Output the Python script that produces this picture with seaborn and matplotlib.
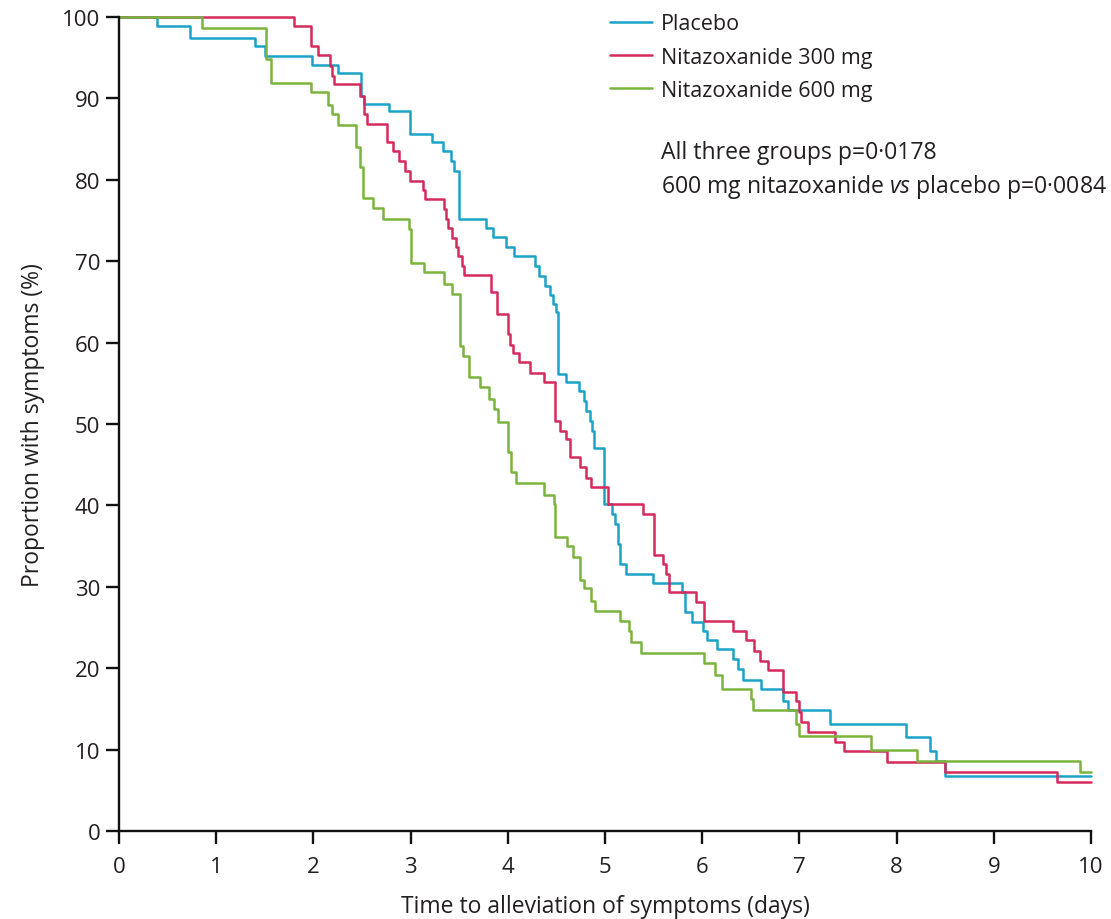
import pandas as pd
import matplotlib
matplotlib.use("Agg")
import matplotlib.pyplot as plt
import seaborn as sns

# Kaplan-Meier style step data (time in days, % with symptoms)
placebo_t = [0, 0.39, 0.73, 1.40, 1.50, 1.99, 2.25, 2.49, 2.52, 2.78, 2.99, 3.22, 3.33,
             3.42, 3.45, 3.50, 3.78, 3.85, 3.98, 4.06, 4.28, 4.32, 4.38, 4.43, 4.47, 4.50,
             4.52, 4.60, 4.73, 4.78, 4.81, 4.85, 4.87, 4.89, 4.99, 5.07, 5.10, 5.13, 5.16,
             5.22, 5.49, 5.79, 5.82, 5.90, 6.01, 6.05, 6.15, 6.32, 6.37, 6.42, 6.61, 6.83,
             6.88, 7.31, 8.10, 8.34, 8.41, 8.50, 10]
placebo_v = [100, 98.9, 97.4, 96.4, 95.2, 94.1, 93.1, 90.3, 89.3, 88.4, 85.6, 84.6, 83.5,
             82.3, 81.1, 75.2, 74.1, 73.0, 71.8, 70.7, 69.4, 68.2, 67.0, 65.8, 64.7, 63.7,
             56.1, 55.1, 54.0, 52.8, 51.6, 50.4, 49.2, 47.1, 40.2, 38.9, 37.7, 35.3, 32.8,
             31.6, 30.5, 29.3, 26.9, 25.7, 24.6, 23.5, 22.4, 21.1, 19.9, 18.6, 17.4, 16.0,
             14.8, 13.2, 11.5, 9.8, 8.6, 6.7, 6.7]

nit300_t = [0, 1.80, 1.98, 2.05, 2.17, 2.19, 2.21, 2.48, 2.52, 2.55, 2.76, 2.82, 2.88,
            2.94, 2.99, 3.13, 3.15, 3.34, 3.37, 3.39, 3.43, 3.47, 3.49, 3.53, 3.55, 3.83,
            3.89, 4.00, 4.02, 4.05, 4.12, 4.23, 4.37, 4.49, 4.54, 4.60, 4.64, 4.74, 4.81,
            4.86, 5.03, 5.39, 5.50, 5.60, 5.63, 5.66, 5.94, 6.02, 6.32, 6.45, 6.53, 6.60,
            6.68, 6.83, 6.97, 7.00, 7.02, 7.09, 7.37, 7.46, 7.90, 8.50, 9.65, 10]
nit300_v = [100, 98.9, 96.5, 95.3, 94.0, 92.8, 91.8, 90.3, 88.1, 86.9, 84.6, 83.5, 82.3,
            81.1, 79.9, 78.8, 77.6, 76.4, 75.2, 74.1, 72.9, 71.8, 70.7, 69.4, 68.3, 66.2,
            63.5, 61.0, 59.7, 58.7, 57.6, 56.3, 55.2, 50.4, 49.2, 48.2, 45.9, 44.7, 43.4,
            42.3, 40.2, 38.9, 33.9, 32.8, 31.6, 29.3, 28.1, 25.8, 24.6, 23.4, 22.1, 20.9,
            19.8, 17.1, 16.0, 14.6, 13.4, 12.1, 10.9, 9.8, 8.5, 7.3, 6.0, 6.0]

nit600_t = [0, 0.86, 1.51, 1.56, 1.98, 2.15, 2.19, 2.25, 2.44, 2.48, 2.51, 2.61, 2.72,
            2.98, 3.00, 3.14, 3.34, 3.43, 3.51, 3.54, 3.60, 3.71, 3.81, 3.86, 3.90, 4.00,
            4.03, 4.09, 4.37, 4.48, 4.49, 4.61, 4.67, 4.74, 4.78, 4.86, 4.90, 5.16, 5.25,
            5.27, 5.37, 6.02, 6.13, 6.20, 6.50, 6.52, 6.97, 7.00, 7.74, 8.21, 9.89, 10]
nit600_v = [100, 98.6, 94.8, 91.9, 90.8, 89.2, 88.1, 86.7, 84.0, 81.6, 77.8, 76.5, 75.2,
            74.0, 69.8, 68.7, 67.2, 66.0, 59.6, 58.3, 55.8, 54.5, 53.1, 51.8, 50.3, 46.5,
            44.1, 42.7, 41.3, 40.2, 36.1, 35.0, 33.6, 30.8, 29.8, 28.3, 27.0, 25.8, 24.6,
            23.2, 21.9, 20.6, 19.1, 17.5, 16.2, 14.8, 13.1, 11.7, 9.9, 8.6, 7.2, 7.2]

groups = ["Placebo", "Nitazoxanide 300 mg", "Nitazoxanide 600 mg"]
colors = {"Placebo": "#1aa2c7", "Nitazoxanide 300 mg": "#d52a5c",
          "Nitazoxanide 600 mg": "#7ab43c"}

df = pd.concat([
    pd.DataFrame({"time": placebo_t, "pct": placebo_v, "group": groups[0]}),
    pd.DataFrame({"time": nit300_t, "pct": nit300_v, "group": groups[1]}),
    pd.DataFrame({"time": nit600_t, "pct": nit600_v, "group": groups[2]}),
], ignore_index=True)

sns.set_style("white")
plt.rcParams["font.family"] = ["Open Sans", "DejaVu Sans"]
plt.rcParams["mathtext.fontset"] = "custom"
plt.rcParams["mathtext.rm"] = "Open Sans"
plt.rcParams["mathtext.it"] = "Open Sans:italic"
txt_color = "#231f20"

fig = plt.figure(figsize=(11.11, 9.2), dpi=100)
ax = fig.add_axes([0.107, 0.0957, 0.875, 0.8847])

sns.lineplot(data=df, x="time", y="pct", hue="group", hue_order=groups, palette=colors,
             estimator=None, sort=False, drawstyle="steps-post", linewidth=1.8,
             clip_on=False, ax=ax)

ax.set_xlim(0, 10)
ax.set_ylim(0, 100)
ax.set_xticks(range(0, 11))
ax.set_yticks(range(0, 101, 10))
sns.despine(ax=ax)
for side in ["left", "bottom"]:
    ax.spines[side].set_linewidth(1.7)
    ax.spines[side].set_color("#111111")
ax.tick_params(axis="both", direction="out", length=9.5, width=1.7, color="#111111",
               labelsize=16, labelcolor=txt_color, bottom=True, left=True)
ax.tick_params(axis="x", pad=8.5)
ax.tick_params(axis="y", pad=4)

ax.set_xlabel("Time to alleviation of symptoms (days)", fontsize=16.5, color=txt_color,
              labelpad=12)
ax.set_ylabel("Proportion with symptoms (%)", fontsize=16.5, color=txt_color, labelpad=12)

sns.move_legend(ax, "upper left", bbox_to_anchor=(0.505, 1.0044), frameon=False, title=None,
                fontsize=15.5, handlelength=1.95, handletextpad=0.42, labelspacing=0.56,
                borderpad=0, borderaxespad=0)
for t in ax.get_legend().get_texts():
    t.set_color(txt_color)

fig.text(0.595, 0.834, "All three groups p=0·0178", fontsize=16.6, color=txt_color,
         va="center")
fig.text(0.595, 0.797, r"600 mg nitazoxanide $\it{vs}$ placebo p=0·0084", fontsize=16.6,
         color=txt_color, va="center")

plt.savefig("out.png", dpi=100)
